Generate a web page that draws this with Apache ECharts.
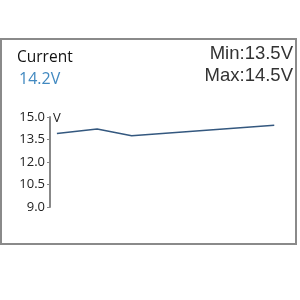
<!DOCTYPE html>
<html>
<head>
<meta charset="utf-8">
<script src="https://cdn.jsdelivr.net/npm/echarts@6/dist/echarts.min.js"></script>
<style>
html, body { margin: 0; padding: 0; background: #fff; }
#chart { width: 300px; height: 300px; }
</style>
</head>
<body>
<div id="chart"></div>
<script>
// voltage samples (time position, volts)
var sampleTimes = [3, 20.5, 35.5, 97.5];
var voltValues = [13.9, 14.2, 13.75, 14.45];
var yTicks = [9.0, 10.5, 12.0, 13.5, 15.0];
var currentText = '14.2V';
var minText = 'Min:13.5V';
var maxText = 'Max:14.5V';

var chart = echarts.init(document.getElementById('chart'));

var points = [];
for (var i = 0; i < sampleTimes.length; i++) {
    points.push([sampleTimes[i], voltValues[i]]);
}

var option = {
    animation: false,
    grid: {
        left: 50,
        right: 20,
        top: 117,
        bottom: 93
    },
    xAxis: {
        type: 'value',
        min: 0,
        max: 100,
        show: false
    },
    yAxis: {
        type: 'value',
        min: yTicks[0],
        max: yTicks[yTicks.length - 1],
        interval: 1.5,
        name: 'V',
        nameLocation: 'end',
        nameGap: -8,
        nameTextStyle: {
            color: '#222',
            fontFamily: 'Open Sans',
            fontSize: 13,
            align: 'left',
            padding: [0, 0, 0, 3]
        },
        axisLine: { show: true, lineStyle: { color: '#888', width: 2 } },
        axisTick: { show: true, length: 3, lineStyle: { color: '#888' } },
        splitLine: { show: false },
        axisLabel: {
            margin: 5,
            color: '#222',
            fontFamily: 'Open Sans',
            fontSize: 13,
            formatter: function (v) { return v.toFixed(1); }
        }
    },
    series: [{
        type: 'line',
        data: points,
        showSymbol: false,
        lineStyle: { color: '#34587f', width: 1.5 }
    }],
    graphic: [
        {
            type: 'rect',
            shape: { x: 1, y: 39, width: 295, height: 205 },
            style: { fill: 'none', stroke: '#8a8a8a', lineWidth: 2 }
        },
        {
            type: 'text', left: 17, top: 50,
            style: { text: 'Current', fill: '#111', font: '15.5px "Open Sans"' }
        },
        {
            type: 'text', left: 19, top: 71,
            style: { text: currentText, fill: '#4189c0', font: '16px "Open Sans"' }
        },
        {
            type: 'text', right: 7, top: 44,
            style: { text: minText, fill: '#333', font: '18.5px "Liberation Sans"', align: 'right' }
        },
        {
            type: 'text', right: 7, top: 66,
            style: { text: maxText, fill: '#333', font: '18.5px "Liberation Sans"', align: 'right' }
        }
    ]
};
chart.setOption(option);
</script>
</body>
</html>
